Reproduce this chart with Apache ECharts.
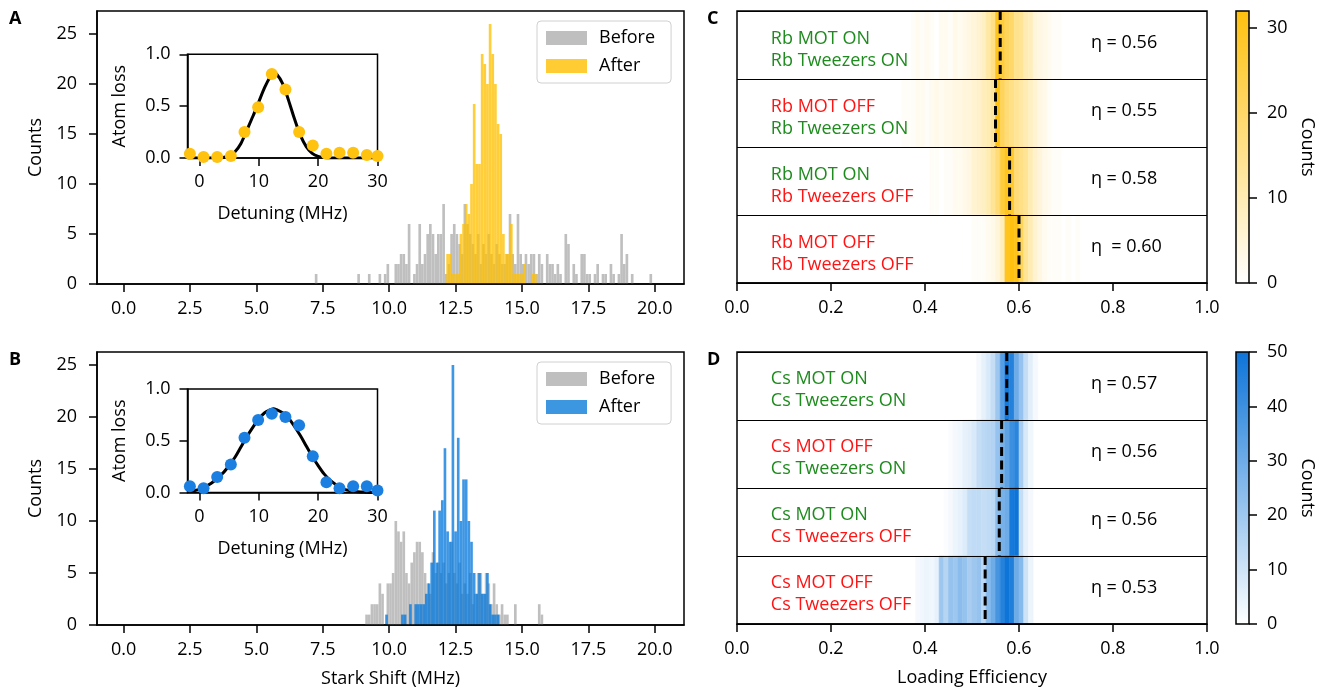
<!DOCTYPE html>
<html>
<head>
<meta charset="utf-8">
<script src="https://cdn.jsdelivr.net/npm/echarts@6/dist/echarts.min.js"></script>
<style>
html, body { margin: 0; padding: 0; background: #fff; }
#chart { width: 1320px; height: 692px; }
</style>
</head>
<body>
<div id="chart"></div>
<script>
const FONT = "'Open Sans', sans-serif";

// ---- histograms (A: Rb, B: Cs), bin width 0.1 MHz, counts from a start value
const binWidth = 0.1;
const rbBeforeStart = 7.2;
const rbBefore = [1, 0,0,0,0,0,0,0,0,0,0,0,0,0,0,0, 1, 0,0,0, 1, 0,0,0, 1, 0, 1, 2, 0,0,
  2,2,3,3,2,6,0,1,2,6,2,3,5,6,5,3,5,5,8,1,2,5,6,5,4,3,8,6,5,4,3,5,2,4,3,5,3,2,4,3,
  2,2,3,7,3,2,7,3,2,3,2,3,3,1,3,2,0,3,2,2,1,2,1,0,5,4,0,2,1,0,3,3,1,1,0,1,2,0,1,1,
  0,2,1,0,1,5,2,3,0,1,0,0,0,0,0,0,1];
const rbAfterStart = 12.15;
const rbAfter = [3,3,1,1,1,5,6,8,7,10,18,12,12,23,22,20,26,23,20,16,15,5,3,3,6,1,1,1,1,2,0,0,1,1];
const csBeforeStart = 9.1;
const csBefore = [1,1,2,2,2,4,3,0,4,4,5,10,9,8,9,5,4,6,7,8,8,7,5,4,3,7,5,6,5,6,
  4,5,8,5,4,6,3,4,3,5,2,3,5,5,3,5,4,2,4,2,1,2,1,1,0,0,2,0,0,0,0,0,0,0,0,2,1];
const csAfterStart = 9.85;
const csAfter = [1,0,0,0,0,0,1,1,0,2,0,2,2,2,2,3,4,6,11,6,11,12,17,9,8,25,9,18,10,14,
  14,10,8,5,3,5,3,3,5,2,1,1,1];

const starkTicks = [0, 2.5, 5, 7.5, 10, 12.5, 15, 17.5, 20];
const countTicks = [0, 5, 10, 15, 20, 25];

// ---- insets: atom loss vs detuning
const detuning = [-1.6, 0.7, 3.0, 5.3, 7.6, 9.9, 12.2, 14.5, 16.8, 19.1, 21.4, 23.6, 25.9, 28.2, 30.0];
const rbLoss = [0.04, 0.01, 0.01, 0.02, 0.25, 0.49, 0.81, 0.66, 0.25, 0.12, 0.04, 0.05, 0.05, 0.03, 0.02];
const csLoss = [0.06, 0.04, 0.15, 0.27, 0.53, 0.70, 0.76, 0.73, 0.65, 0.35, 0.10, 0.04, 0.06, 0.06, 0.02];
const fitX = [-2, 0, 2, 4, 5, 6, 7, 8, 9, 10, 11, 12, 12.5, 13, 14, 15, 16, 17, 18, 19, 20, 21, 22, 24, 26, 28, 30];
const rbFit = [0, 0, 0, 0.005, 0.02, 0.06, 0.14, 0.27, 0.40, 0.54, 0.68, 0.79, 0.82, 0.81, 0.72, 0.56, 0.38, 0.22, 0.11, 0.045, 0.015, 0.005, 0, 0, 0, 0, 0];
const csFit = [0.01, 0.03, 0.09, 0.19, 0.26, 0.34, 0.44, 0.54, 0.63, 0.71, 0.77, 0.80, 0.81, 0.80, 0.77, 0.72, 0.64, 0.55, 0.45, 0.35, 0.26, 0.18, 0.12, 0.04, 0.012, 0.003, 0];
const detuningTicks = [0, 10, 20, 30];

// ---- loading efficiency strips (C: Rb, D: Cs), bin width 0.01
const effBin = 0.01;
const rbStarts = [0.37, 0.35, 0.41, 0.50];
const rbCounts = [
  [1,2,1,2,1,0,2,2,1,3,2,3,4,5,6,8,12,16,30,26,22,20,15,14,10,9,5,4,3,2,1,1],
  [1,1,1,2,2,1,2,3,2,3,3,4,4,5,5,6,7,9,10,13,32,22,18,16,14,12,10,8,6,4,3,1],
  [1,1,0,1,1,2,2,3,4,6,7,8,10,14,18,26,30,28,18,16,14,10,7,5,3,2,1,1],
  [1,1,1,2,3,5,9,30,32,31,22,14,10,6,4,2,1,1,1,0,1,0,1]
];
const csStarts = [0.51, 0.45, 0.44, 0.38];
const csCounts = [
  [2,5,8,12,20,35,48,45,30,22,12,6,2],
  [1,2,3,5,6,8,12,14,15,16,22,28,33,40,44,18,8,3],
  [1,2,4,5,7,12,13,13,12,13,14,24,28,30,48,50,12,5,2],
  [2,3,4,3,5,20,15,22,20,24,22,18,20,22,14,25,30,38,45,50,46,30,25,10,4]
];
const motOn = [true, false, true, false];
const tweezersOn = [true, true, false, false];
const etaRb = [0.56, 0.55, 0.58, 0.60];
const etaRbText = ['η = 0.56', 'η = 0.55', 'η = 0.58', 'η  = 0.60'];
const etaCs = [0.574, 0.563, 0.558, 0.528];
const etaCsText = ['η = 0.57', 'η = 0.56', 'η = 0.56', 'η = 0.53'];
const effTicks = [0, 0.2, 0.4, 0.6, 0.8, 1.0];
const rbBarTicks = [0, 10, 20, 30];
const csBarTicks = [0, 10, 20, 30, 40, 50];

const GRAY = '#bfbfbf';
const GOLD = 'rgba(255,192,0,0.78)';
const BLUE = 'rgba(0,118,220,0.76)';
const GREEN = '#1f8b1f';
const RED = '#ff1414';

function hist(start, counts) {
  return counts.map((c, i) => [+(start + i * binWidth).toFixed(3), c]).filter(d => d[1] > 0);
}
function heat(starts, rows) {
  const out = [];
  rows.forEach((r, ri) => r.forEach((c, i) => {
    if (c > 0) out.push([+(starts[ri] + i * effBin).toFixed(3), ri, c]);
  }));
  return out;
}

function barItem(params, api) {
  const x0 = api.value(0), n = api.value(1);
  const a = api.coord([x0, 0]), b = api.coord([x0 + binWidth, n]);
  return { type: 'rect', shape: { x: a[0], y: b[1], width: b[0] - a[0], height: a[1] - b[1] },
    style: { fill: api.visual('color') } };
}
function heatItem(params, api) {
  const x0 = api.value(0), row = api.value(1);
  const a = api.coord([x0, row]), b = api.coord([x0 + effBin, row + 1]);
  const c = api.visual('color');
  return { type: 'rect',
    shape: { x: Math.min(a[0], b[0]), y: Math.min(a[1], b[1]), width: Math.abs(b[0] - a[0]), height: Math.abs(b[1] - a[1]) },
    style: { fill: c, stroke: c, lineWidth: 0.6 } };
}
function dashItem(params, api) {
  const x = api.value(0), row = api.value(1);
  const a = api.coord([x, row]), b = api.coord([x, row + 1]);
  return { type: 'line', shape: { x1: a[0], y1: a[1], x2: b[0], y2: b[1] },
    style: { stroke: '#000', lineWidth: 3, lineDash: [9, 4.5] } };
}
function rowTextItem(species) {
  return function (params, api) {
    const i = params.dataIndex;
    const p = api.coord([api.value(0), api.value(1)]);
    const l1 = '{' + (motOn[i] ? 'g' : 'r') + '|' + species + ' MOT ' + (motOn[i] ? 'ON' : 'OFF') + '}';
    const l2 = '{' + (tweezersOn[i] ? 'g' : 'r') + '|' + species + ' Tweezers ' + (tweezersOn[i] ? 'ON' : 'OFF') + '}';
    return { type: 'text', x: p[0], y: p[1],
      style: { text: l1 + '\n' + l2, align: 'left', verticalAlign: 'middle',
        rich: { g: { fill: GREEN, fontSize: 18, fontFamily: FONT, lineHeight: 22 },
                r: { fill: RED, fontSize: 18, fontFamily: FONT, lineHeight: 22 } } } };
  };
}
function etaItem(labels) {
  return function (params, api) {
    const p = api.coord([api.value(0), api.value(1)]);
    return { type: 'text', x: p[0], y: p[1],
      style: { text: labels[params.dataIndex], fill: '#000', fontSize: 18, fontFamily: FONT, align: 'left', verticalAlign: 'middle' } };
  };
}
function barColorItem(color) {
  return function (params, api) {
    const a = api.coord([0, 0]), b = api.coord([1, api.value(1)]);
    return { type: 'rect', shape: { x: a[0], y: b[1], width: b[0] - a[0], height: a[1] - b[1] },
      style: { fill: new echarts.graphic.LinearGradient(0, 1, 0, 0, [{ offset: 0, color: '#ffffff' }, { offset: 1, color: color }]) } };
  };
}

const blackLine = { show: true, onZero: false, lineStyle: { color: '#000', width: 1.5 } };
function ticks(vals) { return { show: true, length: 8, lineStyle: { color: '#000', width: 1.5 }, customValues: vals }; }
function labels(vals, fmt, margin) {
  return { show: true, customValues: vals, formatter: fmt, margin: margin, color: '#000', fontSize: 18, fontFamily: FONT };
}
const nameStyle = { color: '#000', fontSize: 18, fontFamily: FONT };
const fixed1 = v => Number(v).toFixed(1);
const plain = v => String(v);
function frame(o) {
  return Object.assign({ show: true, borderColor: '#000', borderWidth: 1.5, backgroundColor: 'transparent', containLabel: false, outerBoundsMode: 'none' }, o);
}

const grid = [
  frame({ left: 97, top: 11, width: 587, height: 273 }),            // 0 A
  frame({ left: 187.5, top: 54.3, width: 190, height: 103.7, backgroundColor: '#fff', z: 3 }), // 1 inset A
  frame({ left: 97, top: 352, width: 587, height: 273 }),           // 2 B
  frame({ left: 187.5, top: 389, width: 190, height: 103.5, backgroundColor: '#fff', z: 3 }),  // 3 inset B
  frame({ left: 737, top: 11, width: 470, height: 272, z: 5 }),     // 4 C
  frame({ left: 737, top: 352, width: 470, height: 272, z: 5 }),    // 5 D
  frame({ left: 1236, top: 11, width: 13, height: 272, z: 5 }),     // 6 colorbar C
  frame({ left: 1236, top: 352, width: 13, height: 272, z: 5 })     // 7 colorbar D
];

const xAxis = [
  { gridIndex: 0, type: 'value', position: 'bottom', min: -1, max: 21.1, axisLine: blackLine, axisTick: ticks(starkTicks),
    axisLabel: labels(starkTicks, fixed1, 16), splitLine: { show: false }, z: 4 },
  { gridIndex: 1, type: 'value', position: 'bottom', min: -2, max: 30, axisLine: blackLine, axisTick: ticks(detuningTicks),
    axisLabel: labels(detuningTicks, plain, 15), splitLine: { show: false },
    name: 'Detuning (MHz)', nameLocation: 'middle', nameGap: 47, nameTextStyle: nameStyle, nameMoveOverlap: false, z: 4 },
  { gridIndex: 2, type: 'value', position: 'bottom', min: -1, max: 21.1, axisLine: blackLine, axisTick: ticks(starkTicks),
    axisLabel: labels(starkTicks, fixed1, 16), splitLine: { show: false },
    name: 'Stark Shift (MHz)', nameLocation: 'middle', nameGap: 45, nameTextStyle: nameStyle, nameMoveOverlap: false, z: 4 },
  { gridIndex: 3, type: 'value', position: 'bottom', min: -2, max: 30, axisLine: blackLine, axisTick: ticks(detuningTicks),
    axisLabel: labels(detuningTicks, plain, 15), splitLine: { show: false },
    name: 'Detuning (MHz)', nameLocation: 'middle', nameGap: 47, nameTextStyle: nameStyle, nameMoveOverlap: false, z: 4 },
  { gridIndex: 4, type: 'value', position: 'bottom', min: 0, max: 1, axisLine: blackLine, axisTick: ticks(effTicks),
    axisLabel: labels(effTicks, fixed1, 16), splitLine: { show: false }, z: 4 },
  { gridIndex: 5, type: 'value', position: 'bottom', min: 0, max: 1, axisLine: blackLine, axisTick: ticks(effTicks),
    axisLabel: labels(effTicks, fixed1, 16), splitLine: { show: false },
    name: 'Loading Efficiency', nameLocation: 'middle', nameGap: 45, nameTextStyle: nameStyle, nameMoveOverlap: false, z: 4 },
  { gridIndex: 6, type: 'value', min: 0, max: 1, show: false },
  { gridIndex: 7, type: 'value', min: 0, max: 1, show: false }
];

const rowAxis = (gi) => ({ gridIndex: gi, type: 'value', min: 0, max: 4, interval: 1, inverse: true,
  axisLine: { show: false, onZero: false }, axisTick: { show: false }, axisLabel: { show: false },
  splitLine: { show: true, lineStyle: { color: '#000', width: 1.2 } }, z: 4 });

const yAxis = [
  { gridIndex: 0, type: 'value', position: 'left', min: 0, max: 27.3, axisLine: blackLine, axisTick: ticks(countTicks),
    axisLabel: labels(countTicks, plain, 20), splitLine: { show: false },
    name: 'Counts', nameLocation: 'middle', nameGap: 52, nameTextStyle: nameStyle, nameMoveOverlap: false, z: 4 },
  { gridIndex: 1, type: 'value', position: 'left', min: 0, max: 1, interval: 0.5, axisLine: blackLine,
    axisTick: { show: true, length: 8, lineStyle: { color: '#000', width: 1.5 } },
    axisLabel: { formatter: fixed1, margin: 17, color: '#000', fontSize: 18, fontFamily: FONT }, splitLine: { show: false },
    name: 'Atom loss', nameLocation: 'middle', nameGap: 59, nameTextStyle: nameStyle, nameMoveOverlap: false, z: 4 },
  { gridIndex: 2, type: 'value', position: 'left', min: 0, max: 26.25, axisLine: blackLine, axisTick: ticks(countTicks),
    axisLabel: labels(countTicks, plain, 20), splitLine: { show: false },
    name: 'Counts', nameLocation: 'middle', nameGap: 52, nameTextStyle: nameStyle, nameMoveOverlap: false, z: 4 },
  { gridIndex: 3, type: 'value', position: 'left', min: 0, max: 1, interval: 0.5, axisLine: blackLine,
    axisTick: { show: true, length: 8, lineStyle: { color: '#000', width: 1.5 } },
    axisLabel: { formatter: fixed1, margin: 17, color: '#000', fontSize: 18, fontFamily: FONT }, splitLine: { show: false },
    name: 'Atom loss', nameLocation: 'middle', nameGap: 59, nameTextStyle: nameStyle, nameMoveOverlap: false, z: 4 },
  rowAxis(4),
  rowAxis(5),
  { gridIndex: 6, type: 'value', position: 'right', min: 0, max: 32, axisLine: { show: false, onZero: false }, axisTick: ticks(rbBarTicks),
    axisLabel: labels(rbBarTicks, plain, 18), splitLine: { show: false },
    name: 'Counts', nameLocation: 'middle', nameGap: 49, nameRotate: -90, nameTextStyle: nameStyle, nameMoveOverlap: false },
  { gridIndex: 7, type: 'value', position: 'right', min: 0, max: 50, axisLine: { show: false, onZero: false }, axisTick: ticks(csBarTicks),
    axisLabel: labels(csBarTicks, plain, 18), splitLine: { show: false },
    name: 'Counts', nameLocation: 'middle', nameGap: 49, nameRotate: -90, nameTextStyle: nameStyle, nameMoveOverlap: false }
];

const rowCenters = [0, 1, 2, 3];
const series = [
  { name: 'Before', type: 'custom', xAxisIndex: 0, yAxisIndex: 0, renderItem: barItem, itemStyle: { color: GRAY },
    encode: { x: 0, y: 1 }, data: hist(rbBeforeStart, rbBefore), z: 1 },
  { name: 'After', type: 'custom', xAxisIndex: 0, yAxisIndex: 0, renderItem: barItem, itemStyle: { color: GOLD },
    encode: { x: 0, y: 1 }, data: hist(rbAfterStart, rbAfter), z: 2 },
  { name: 'Before', type: 'custom', xAxisIndex: 2, yAxisIndex: 2, renderItem: barItem, itemStyle: { color: GRAY },
    encode: { x: 0, y: 1 }, data: hist(csBeforeStart, csBefore), z: 1 },
  { name: 'After', type: 'custom', xAxisIndex: 2, yAxisIndex: 2, renderItem: barItem, itemStyle: { color: BLUE },
    encode: { x: 0, y: 1 }, data: hist(csAfterStart, csAfter), z: 2 },
  { type: 'line', xAxisIndex: 1, yAxisIndex: 1, data: fitX.map((x, i) => [x, rbFit[i]]), smooth: 0.3,
    showSymbol: false, symbol: 'none', lineStyle: { color: '#000', width: 3 }, z: 5, silent: true },
  { type: 'scatter', xAxisIndex: 1, yAxisIndex: 1, data: detuning.map((x, i) => [x, rbLoss[i]]),
    symbolSize: 12, itemStyle: { color: '#ffc20e', opacity: 1 }, z: 6 },
  { type: 'line', xAxisIndex: 3, yAxisIndex: 3, data: fitX.map((x, i) => [x, csFit[i]]), smooth: 0.3,
    showSymbol: false, symbol: 'none', lineStyle: { color: '#000', width: 3 }, z: 5, silent: true },
  { type: 'scatter', xAxisIndex: 3, yAxisIndex: 3, data: detuning.map((x, i) => [x, csLoss[i]]),
    symbolSize: 12, itemStyle: { color: '#1a7fe0', opacity: 1 }, z: 6 },
  { type: 'custom', xAxisIndex: 4, yAxisIndex: 4, renderItem: heatItem, encode: { x: 0, y: 1 },
    data: heat(rbStarts, rbCounts), z: 1 },
  { type: 'custom', xAxisIndex: 5, yAxisIndex: 5, renderItem: heatItem, encode: { x: 0, y: 1 },
    data: heat(csStarts, csCounts), z: 1 },
  { type: 'custom', xAxisIndex: 4, yAxisIndex: 4, renderItem: dashItem, encode: { x: 0, y: 1 },
    data: etaRb.map((e, i) => [e, i]), z: 6 },
  { type: 'custom', xAxisIndex: 5, yAxisIndex: 5, renderItem: dashItem, encode: { x: 0, y: 1 },
    data: etaCs.map((e, i) => [e, i]), z: 6 },
  { type: 'custom', xAxisIndex: 4, yAxisIndex: 4, renderItem: rowTextItem('Rb'), encode: { x: 0, y: 1 },
    data: rowCenters.map(r => [0.072, r + 0.57]), z: 7 },
  { type: 'custom', xAxisIndex: 5, yAxisIndex: 5, renderItem: rowTextItem('Cs'), encode: { x: 0, y: 1 },
    data: rowCenters.map(r => [0.072, r + 0.56]), z: 7 },
  { type: 'custom', xAxisIndex: 4, yAxisIndex: 4, renderItem: etaItem(etaRbText), encode: { x: 0, y: 1 },
    data: rowCenters.map(r => [0.753, r + 0.47]), z: 7 },
  { type: 'custom', xAxisIndex: 5, yAxisIndex: 5, renderItem: etaItem(etaCsText), encode: { x: 0, y: 1 },
    data: rowCenters.map(r => [0.753, r + 0.47]), z: 7 },
  { type: 'custom', xAxisIndex: 6, yAxisIndex: 6, renderItem: barColorItem('#ffc10f'), encode: { x: 0, y: 1 },
    data: [[0, 32]], z: 1 },
  { type: 'custom', xAxisIndex: 7, yAxisIndex: 7, renderItem: barColorItem('#0d74d8'), encode: { x: 0, y: 1 },
    data: [[0, 50]], z: 1 }
];

const legendBase = {
  orient: 'vertical', itemWidth: 41, itemHeight: 14, itemGap: 10, padding: [8, 16, 8, 9],
  borderColor: '#d0d0d0', borderWidth: 1, borderRadius: 4, backgroundColor: '#fff', selectedMode: false,
  textStyle: { fontSize: 18, fontFamily: FONT, color: '#000', padding: [0, 0, 0, 7] }, icon: 'rect'
};

const letter = (t, left, top) => ({ text: t, left: left, top: top, padding: 0,
  textStyle: { fontSize: 18, fontWeight: 'bold', fontFamily: FONT, color: '#000' } });

const option = {
  animation: false,
  backgroundColor: '#fff',
  title: [letter('A', 9, 10), letter('B', 9, 351), letter('C', 707, 10), letter('D', 707, 351)],
  legend: [
    Object.assign({}, legendBase, { left: 537, top: 21,
      data: [{ name: 'Before', itemStyle: { color: GRAY } }, { name: 'After', itemStyle: { color: '#ffcc33' } }] }),
    Object.assign({}, legendBase, { left: 537, top: 362,
      data: [{ name: 'Before', itemStyle: { color: GRAY } }, { name: 'After', itemStyle: { color: '#3d96e0' } }] })
  ],
  visualMap: [
    { type: 'continuous', show: false, seriesIndex: 8, dimension: 2, min: 0, max: 32,
      inRange: { color: ['#ffffff', '#ffc10f'] } },
    { type: 'continuous', show: false, seriesIndex: 9, dimension: 2, min: 0, max: 50,
      inRange: { color: ['#ffffff', '#0d74d8'] } }
  ],
  grid: grid,
  xAxis: xAxis,
  yAxis: yAxis,
  series: series
};

const chart = echarts.init(document.getElementById('chart'));
chart.setOption(option);
</script>
</body>
</html>
